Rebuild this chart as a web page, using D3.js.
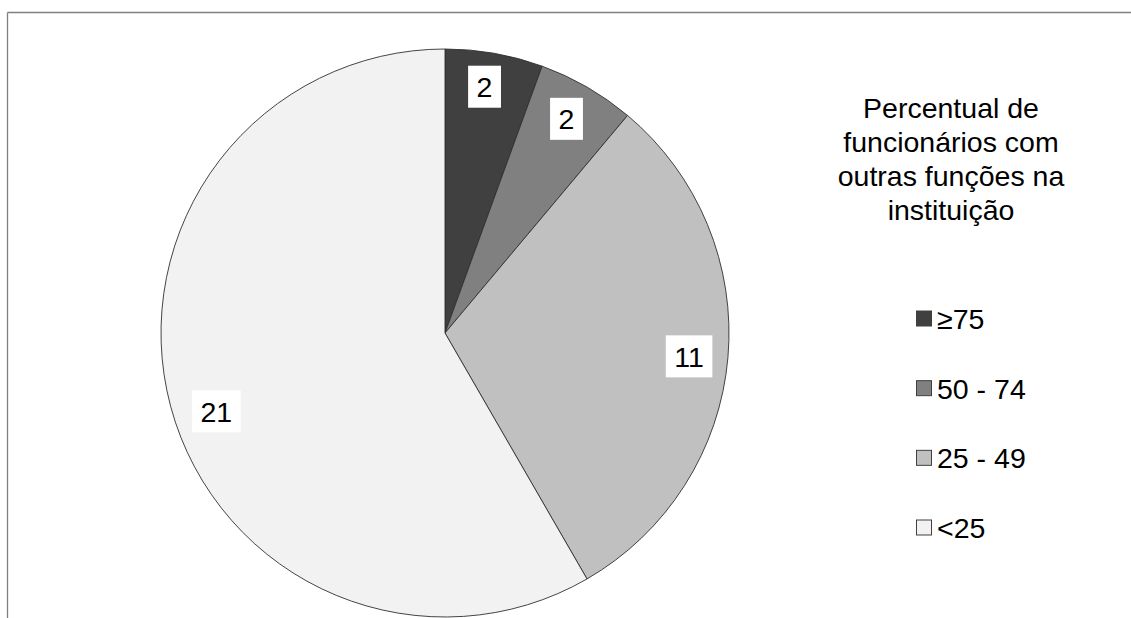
<!DOCTYPE html>
<html>
<head>
<meta charset="utf-8">
<script src="https://cdn.jsdelivr.net/npm/d3@7"></script>
<style>
  html, body { margin: 0; padding: 0; background: #fff; }
  svg { display: block; font-family: "Liberation Sans", Arial, sans-serif; }
</style>
</head>
<body>
<svg id="chart" width="1131" height="618"></svg>
<script>
// Share of staff with other duties in the institution (count of institutions per band)
const categories = ["≥75", "50 - 74", "25 - 49", "<25"];
const values = [2, 2, 11, 21];
const fills = ["#404040", "#808080", "#c0c0c0", "#f2f2f2"];
const titleLines = ["Percentual de", "funcionários com", "outras funções na", "instituição"];

// small pixel nudges for the value boxes, applied after the centroid placement
const labelNudge = [[-3, -5], [-1, -2], [0, 2], [8, 15]];

const svg = d3.select("#chart");
const W = 1131, H = 618;

// chart frame (top and left edges)
svg.append("line").attr("x1", 7.5).attr("y1", 12.5).attr("x2", W).attr("y2", 12.5)
  .attr("stroke", "#808080").attr("stroke-width", 1.3);
svg.append("line").attr("x1", 7.5).attr("y1", 12.5).attr("x2", 7.5).attr("y2", H)
  .attr("stroke", "#808080").attr("stroke-width", 1.3);

const cx = 445, cy = 333, R = 284;
const color = d3.scaleOrdinal().domain(categories).range(fills);

const pie = d3.pie().sort(null).value(d => d.value).startAngle(0).endAngle(2 * Math.PI);
const data = categories.map((c, i) => ({ cat: c, value: values[i] }));
const arcs = pie(data);

const arc = d3.arc().innerRadius(0).outerRadius(R);
const labelArc = d3.arc().innerRadius(245).outerRadius(245);

const g = svg.append("g").attr("transform", `translate(${cx},${cy})`);

g.selectAll("path.slice").data(arcs).join("path")
  .attr("class", "slice")
  .attr("d", arc)
  .attr("fill", d => color(d.data.cat))
  .attr("stroke", "#303030")
  .attr("stroke-width", 0.9);

// value labels on white boxes
const fs = 28.5;
const labels = g.selectAll("g.lbl").data(arcs).join("g")
  .attr("class", "lbl")
  .attr("transform", (d, i) => {
    const [x, y] = labelArc.centroid(d);
    return `translate(${x + labelNudge[i][0]},${y + labelNudge[i][1]})`;
  });

labels.each(function (d) {
  const sel = d3.select(this);
  const rect = sel.append("rect").attr("fill", "#fff");
  const t = sel.append("text")
    .attr("text-anchor", "middle")
    .attr("y", fs * 0.36)
    .attr("font-size", fs)
    .attr("fill", "#000")
    .text(d.data.value);
  const bb = t.node().getBBox();
  const padX = 8.5, h = 42;
  rect.attr("x", -bb.width / 2 - padX).attr("y", -h / 2)
    .attr("width", bb.width + 2 * padX).attr("height", h);
});

// legend title
const title = svg.append("text")
  .attr("text-anchor", "middle")
  .attr("font-size", fs)
  .attr("fill", "#000");
titleLines.forEach((l, i) => {
  title.append("tspan").attr("x", 951).attr("y", 118 + i * 34).text(l);
});

// legend entries
const legendY = d3.scalePoint().domain(categories).range([329, 538]);
const leg = svg.selectAll("g.leg").data(categories).join("g")
  .attr("class", "leg")
  .attr("transform", d => `translate(0,${legendY(d)})`);
leg.append("rect")
  .attr("x", 916.5).attr("y", -18).attr("width", 15).attr("height", 15)
  .attr("fill", d => color(d))
  .attr("stroke", "#404040").attr("stroke-width", 1);
leg.append("text")
  .attr("x", 937).attr("y", 0)
  .attr("font-size", fs)
  .attr("fill", "#000")
  .text(d => d);
</script>
</body>
</html>
